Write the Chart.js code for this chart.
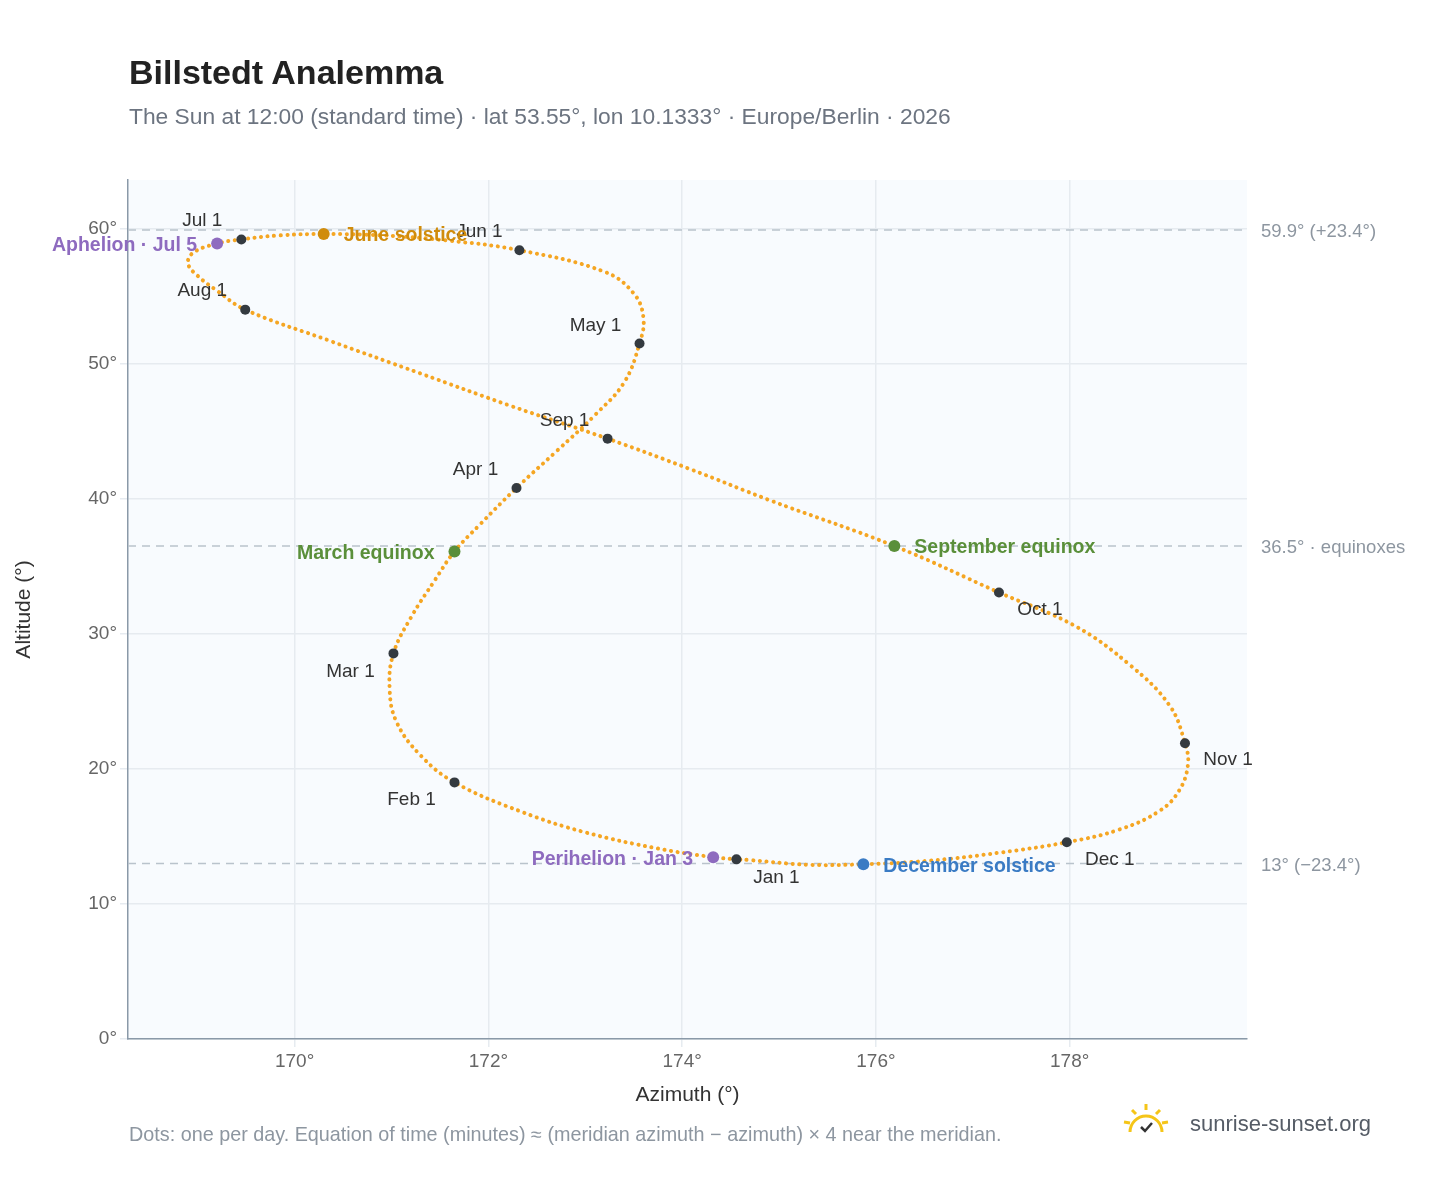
<!DOCTYPE html>
<html><head><meta charset="utf-8">
<script src="https://cdn.jsdelivr.net/npm/chart.js@4.4.1/dist/chart.umd.min.js"></script>
<style>
body{margin:0;background:#fff;font-family:"Liberation Sans",Arial,sans-serif;}
#wrap{position:relative;width:1448px;height:1188px;}
#title{position:absolute;left:129px;top:53px;font-size:34px;font-weight:bold;color:#222;}
#sub{position:absolute;left:129px;top:103px;font-size:22.8px;color:#6c7480;}
#foot{position:absolute;left:129px;top:1123px;font-size:19.8px;color:#8d96a0;}
#brand{position:absolute;left:1190px;top:1111px;font-size:22px;color:#555c66;}
canvas{position:absolute;left:0;top:0;}
</style></head><body>
<div id="wrap">
<canvas id="c" width="1448" height="1188"></canvas>
<div id="title">Billstedt Analemma</div>
<div id="sub">The Sun at 12:00 (standard time) · lat 53.55°, lon 10.1333° · Europe/Berlin · 2026</div>
<div id="foot">Dots: one per day. Equation of time (minutes) ≈ (meridian azimuth − azimuth) × 4 near the meridian.</div>
<svg style="position:absolute;left:1122px;top:1102px" width="48" height="34" viewBox="0 0 48 34">
<path d="M8 30 A16 16 0 0 1 40 30" fill="none" stroke="#f5c518" stroke-width="3"/>
<g stroke="#f5c518" stroke-width="3"><line x1="24" y1="2" x2="24" y2="8"/><line x1="10" y1="8" x2="14" y2="12"/><line x1="38" y1="8" x2="34" y2="12"/><line x1="2" y1="20" x2="8" y2="21"/><line x1="46" y1="20" x2="40" y2="21"/></g>
<path d="M19 25 l4 4 l7 -8" fill="none" stroke="#333" stroke-width="2.5"/></svg>
<div id="brand">sunrise-sunset.org</div>
</div>
<script>
// path of the sun, roughly every 5-7 days (azimuth°, altitude°)
const pathDates = ['Jan 1','Jan 3','Jan 8','Jan 15','Jan 22','Feb 1','Feb 8','Feb 15','Feb 22','Mar 1','Mar 8','Mar 15','Mar 20','Mar 25','Apr 1','Apr 8','Apr 15','Apr 22','May 1','May 8','May 15','May 22','Jun 1','Jun 8','Jun 15','Jun 21','Jun 26','Jul 1','Jul 5','Jul 10','Jul 15','Jul 20','Jul 25','Aug 1','Aug 8','Aug 15','Aug 22','Sep 1','Sep 8','Sep 15','Sep 23','Oct 1','Oct 8','Oct 15','Oct 22','Nov 1','Nov 5','Nov 10','Nov 15','Nov 22','Dec 1','Dec 8','Dec 15','Dec 21','Dec 26','Dec 31'];
const pathAz = [174.56,174.32,173.75,173.0,172.35,171.65,171.3,171.05,170.98,171.02,171.2,171.45,171.65,171.9,172.29,172.7,173.1,173.4,173.56,173.6,173.5,173.2,172.32,171.6,170.9,170.3,169.85,169.45,169.2,168.95,168.9,169.0,169.2,169.49,170.36,171.29,172.22,173.23,174.08,174.9,176.19,177.27,178.05,178.62,179.03,179.19,179.22,179.13,178.93,178.51,177.97,177.28,176.55,175.87,175.31,174.69];
const pathAlt = [13.3,13.46,14.1,15.3,16.8,19.0,21.0,23.5,26.0,28.55,31.2,34.0,36.1,38.0,40.8,43.5,46.2,48.6,51.5,53.4,55.2,56.8,58.4,59.1,59.5,59.6,59.5,59.2,58.9,58.2,57.4,56.5,55.4,54.0,51.7,49.3,46.9,44.45,42.2,39.9,36.5,33.06,30.6,27.7,24.7,21.9,20.3,18.4,16.9,15.5,14.57,13.8,13.2,12.94,12.9,13.25];

const monthLabels = ['Jan 1','Feb 1','Mar 1','Apr 1','May 1','Jun 1','Jul 1','Aug 1','Sep 1','Oct 1','Nov 1','Dec 1'];
const monthAz = [174.56,171.65,171.02,172.29,173.56,172.32,169.45,169.49,173.23,177.27,179.19,177.97];
const monthAlt = [13.3,19.0,28.55,40.8,51.5,58.4,59.2,54.0,44.45,33.06,21.9,14.57];
const monthOffX = [40,-43,-43,-41,-44,-40,-39,-43,-43,41,43,43];
const monthOffY = [18,17,18,-18,-18,-18,-19,-19,-18,17,17,18];

const eventLabels = ['Aphelion · Jul 5','June solstice','March equinox','September equinox','Perihelion · Jan 3','December solstice'];
const eventAz = [169.2,170.3,171.65,176.19,174.32,175.87];
const eventAlt = [58.9,59.6,36.1,36.5,13.46,12.94];
const eventColors = ['#8e6bbf','#d08c0c','#5a8f3a','#5a8f3a','#8e6bbf','#3a7bc4'];
const eventSide = [-1,1,-1,1,-1,1];

const refAlt = [59.9,36.5,13];
const refLabels = ['59.9° (+23.4°)','36.5° · equinoxes','13° (−23.4°)'];

const xy = (a,b)=>a.map((v,i)=>({x:v,y:b[i]}));
const FF = '"Liberation Sans", Arial';

const overlay = {
  id:'overlay',
  beforeDraw(ch){
    const {ctx,chartArea:a}=ch;
    ctx.save();ctx.fillStyle='#f8fbfe';ctx.fillRect(a.left,a.top,a.right-a.left,a.bottom-a.top);ctx.restore();
  },
  beforeDatasetsDraw(ch){
    const {ctx,chartArea:a,scales:{y}}=ch;
    ctx.save();ctx.strokeStyle='#b9c3cc';ctx.lineWidth=1.5;ctx.setLineDash([8,6]);
    ctx.font='18.5px '+FF;ctx.fillStyle='#8d96a0';ctx.textBaseline='middle';
    refAlt.forEach((v,i)=>{const py=y.getPixelForValue(v);
      ctx.beginPath();ctx.moveTo(a.left,py);ctx.lineTo(a.right,py);ctx.stroke();
      ctx.fillText(refLabels[i],a.right+14,py+2);});
    ctx.restore();
  },
  afterDatasetsDraw(ch){
    const {ctx,scales:{x,y}}=ch;
    ctx.save();ctx.textBaseline='middle';
    ctx.font='19px '+FF;ctx.fillStyle='#333';ctx.textAlign='center';
    monthLabels.forEach((t,i)=>ctx.fillText(t,x.getPixelForValue(monthAz[i])+monthOffX[i],y.getPixelForValue(monthAlt[i])+monthOffY[i]));
    ctx.font='bold 19.5px '+FF;
    eventLabels.forEach((t,i)=>{ctx.fillStyle=eventColors[i];ctx.textAlign=eventSide[i]<0?'right':'left';
      ctx.fillText(t,x.getPixelForValue(eventAz[i])+eventSide[i]*20,y.getPixelForValue(eventAlt[i])+2);});
    ctx.restore();
  }
};

new Chart(document.getElementById('c'),{
  type:'scatter',
  data:{datasets:[
    {data:xy(eventAz,eventAlt),pointRadius:6,pointBackgroundColor:eventColors,pointBorderWidth:0,showLine:false},
    {data:xy(monthAz,monthAlt),pointRadius:5,pointBackgroundColor:'#343a40',pointBorderWidth:0,showLine:false},
    {data:xy(pathAz.concat([pathAz[0]]),pathAlt.concat([pathAlt[0]])),showLine:true,pointRadius:0,borderColor:'#f5a623',borderWidth:4,borderDash:[0.1,6.5],borderCapStyle:'round',tension:0.4}
  ]},
  options:{
    responsive:false,animation:false,
    layout:{padding:{top:180,right:201,bottom:76,left:0}},
    plugins:{legend:{display:false},tooltip:{enabled:false}},
    scales:{
      x:{min:168.28,max:179.83,afterFit:s=>{s.height=73;},
        afterBuildTicks:s=>{s.ticks=[170,172,174,176,178].map(v=>({value:v}));},
        ticks:{color:'#666',font:{size:19,family:FF},callback:v=>v+'°'},
        grid:{color:'#e6ebf0',lineWidth:1.5},border:{color:'#8a99a8',width:1.5},
        title:{display:true,text:'Azimuth (°)',color:'#333',font:{size:21,family:FF},padding:{top:8}}},
      y:{min:0,max:63.6,afterFit:s=>{s.width=128;},
        afterBuildTicks:s=>{s.ticks=[0,10,20,30,40,50,60].map(v=>({value:v}));},
        ticks:{color:'#666',font:{size:19,family:FF},callback:v=>v+'°'},
        grid:{color:'#e6ebf0',lineWidth:1.5},border:{color:'#8a99a8',width:1.5},
        title:{display:true,text:'Altitude (°)',color:'#333',font:{size:21,family:FF},padding:{top:12}}}
    }
  },
  plugins:[overlay]
});
</script></body></html>
